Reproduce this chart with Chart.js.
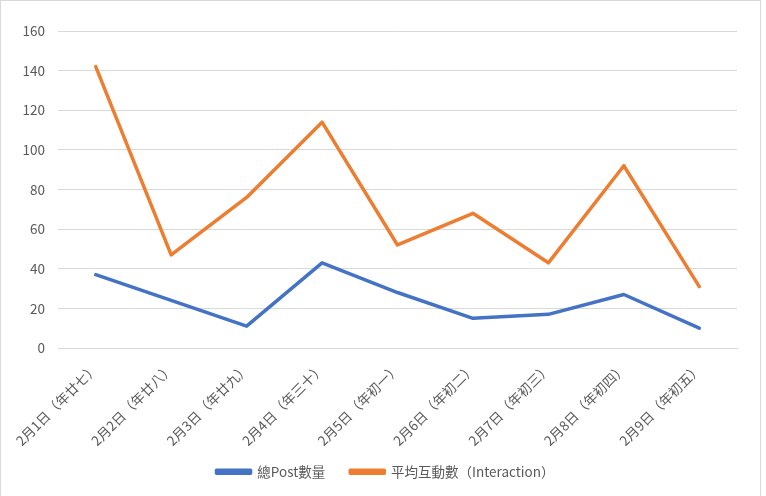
<!DOCTYPE html>
<html>
<head>
<meta charset="utf-8">
<script src="https://cdn.jsdelivr.net/npm/chart.js@4"></script>
<style>
  html, body { margin: 0; padding: 0; background: #fff; }
  #frame { position: absolute; left: 0; top: 0; width: 761px; height: 520px; border: 1px solid #d9d9d9; box-sizing: border-box; }
  #wrap { position: absolute; left: 0; top: 0; width: 766px; height: 496px; }
</style>
</head>
<body>
<div id="frame"></div>
<div id="wrap"><canvas id="c" width="766" height="496"></canvas></div>
<script>
const categories = ['2月1日（年廿七）','2月2日（年廿八）','2月3日（年廿九）','2月4日（年三十）','2月5日（年初一）','2月6日（年初二）','2月7日（年初三）','2月8日（年初四）','2月9日（年初五）'];
const totalPosts = [37, 24, 11, 43, 28, 15, 17, 27, 10];
const avgInteraction = [142, 47, 76, 114, 52, 68, 43, 92, 31];
const seriesNames = ['總Post數量', '平均互動數（Interaction）'];
const yTicks = [0, 20, 40, 60, 80, 100, 120, 140, 160];

const FONT = '"Noto Sans CJK TC", "Noto Sans", sans-serif';
const TEXT = '#595959';
const GRID = '#d9d9d9';

const legendShift = {
  id: 'legendShift',
  afterLayout(chart) {
    const l = chart.legend;
    if (l) { l.left += 17; l.right += 17; l.top -= 12; l.bottom -= 12; }
  }
};

new Chart(document.getElementById('c'), {
  type: 'line',
  data: {
    labels: categories,
    datasets: [
      { label: seriesNames[0], data: totalPosts, borderColor: '#4472C4', backgroundColor: '#4472C4', borderWidth: 3.5, pointRadius: 0, tension: 0, borderCapStyle: 'round', borderJoinStyle: 'round' },
      { label: seriesNames[1], data: avgInteraction, borderColor: '#ED7D31', backgroundColor: '#ED7D31', borderWidth: 3.5, pointRadius: 0, tension: 0, borderCapStyle: 'round', borderJoinStyle: 'round' }
    ]
  },
  plugins: [legendShift],
  options: {
    responsive: false,
    animation: false,
    devicePixelRatio: 1,
    layout: { padding: { left: 0, right: 29, top: 31, bottom: -4.5 } },
    plugins: {
      tooltip: { enabled: false },
      legend: {
        position: 'bottom',
        labels: { boxWidth: 34, boxHeight: 3, padding: 25, color: TEXT, font: { family: FONT, size: 13.5 } }
      }
    },
    scales: {
      x: {
        offset: true,
        grid: { display: false, drawTicks: false },
        border: { display: true, color: GRID, width: 1 },
        ticks: { color: TEXT, font: { family: FONT, size: 13.5 }, minRotation: 45, maxRotation: 45, padding: 12, autoSkip: false },
        afterFit: s => { s.height = 104; }
      },
      y: {
        min: 0, max: 160,
        afterBuildTicks: s => { s.ticks = yTicks.map(v => ({ value: v })); },
        grid: { color: GRID, lineWidth: 1, drawTicks: false },
        border: { display: false },
        ticks: { color: TEXT, font: { family: FONT, size: 13.5 }, padding: 13 },
        afterFit: s => { s.width = 58; }
      }
    }
  }
});
</script>
</body>
</html>
